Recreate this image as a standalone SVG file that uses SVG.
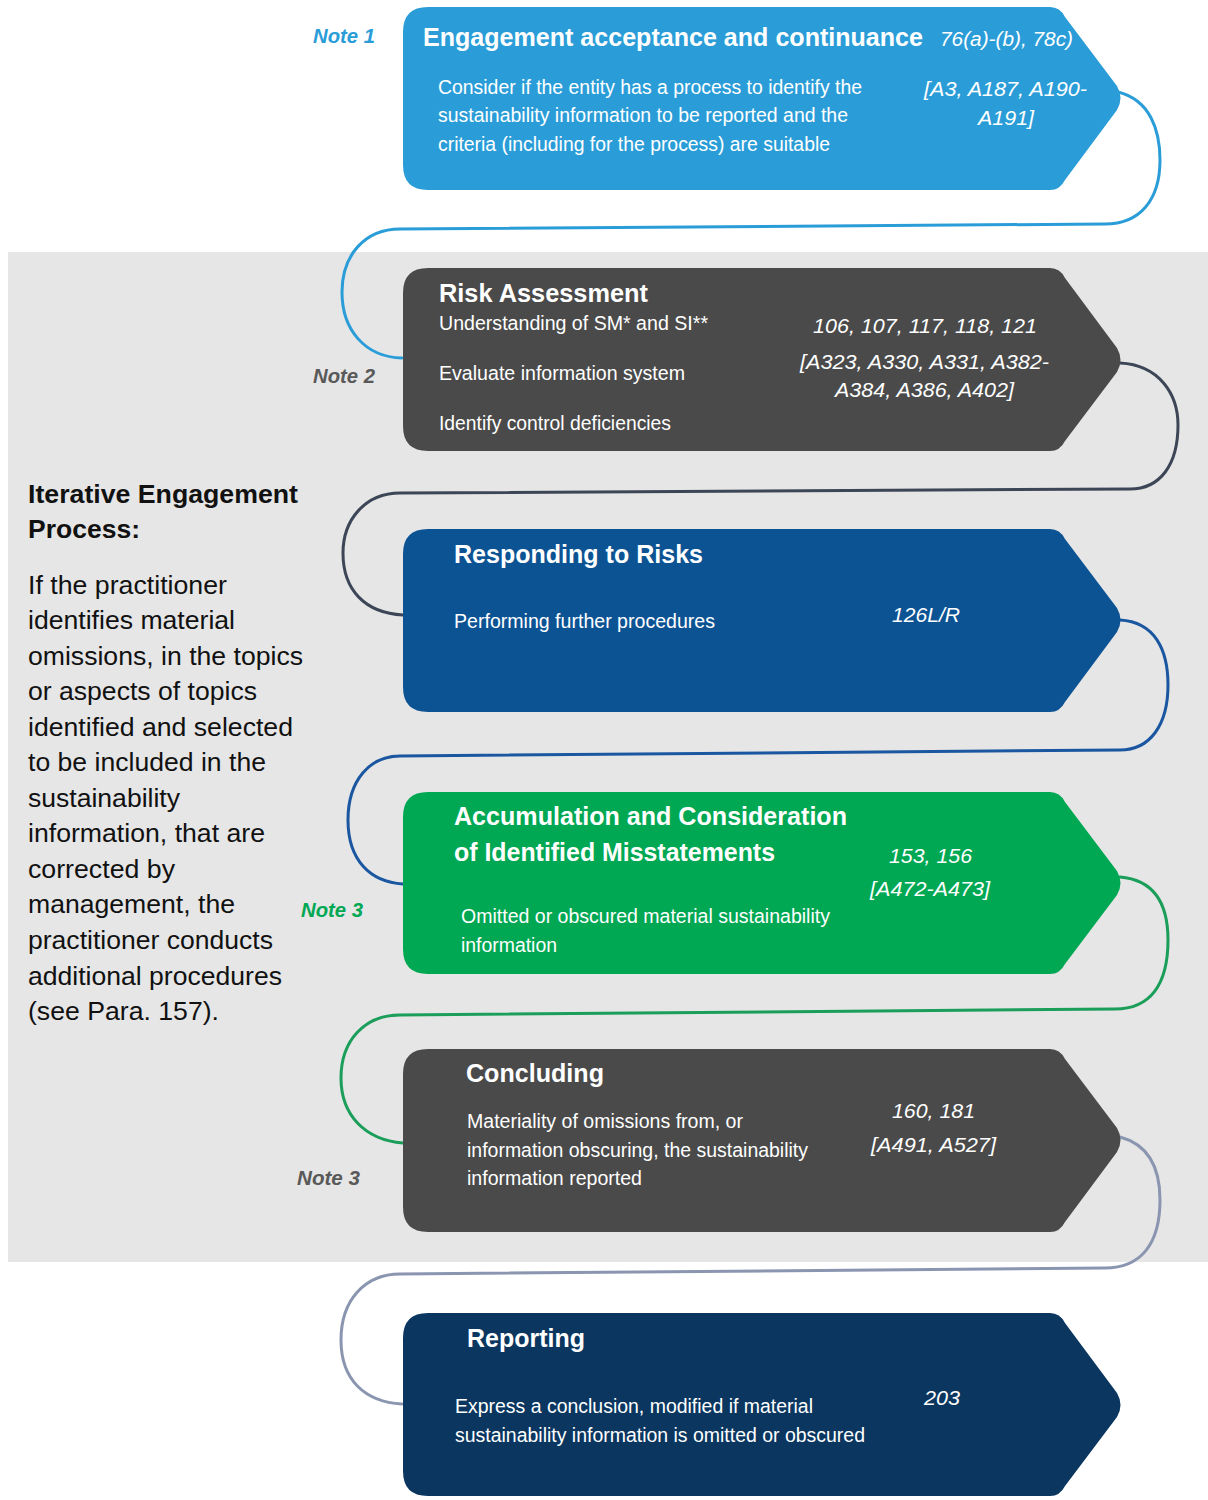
<svg xmlns="http://www.w3.org/2000/svg" width="1208" height="1500" viewBox="0 0 1208 1500">
<style>
.t{font-family:"Liberation Sans",Arial,sans-serif;fill:#fff;font-weight:bold;font-size:26px}
.b{font-family:"Liberation Sans",Arial,sans-serif;fill:#fff;font-size:20px}
.r{font-family:"Liberation Sans",Arial,sans-serif;fill:#fff;font-size:20px;font-style:italic}
.n{font-family:"Liberation Sans",Arial,sans-serif;font-size:19.5px;font-style:italic;font-weight:bold}
.l{font-family:"Liberation Sans",Arial,sans-serif;fill:#111;font-size:26.5px}
.lh{font-family:"Liberation Sans",Arial,sans-serif;fill:#111;font-size:26.5px;font-weight:bold}
.c{fill:none;stroke-width:3;stroke-linecap:round}
</style>
<rect x="8" y="252" width="1200" height="1010" fill="#e6e6e6"/>
<g id="connectors">
<path class="c" stroke="#2a9dd8" d="M1118 92 C1150 100,1160 130,1160 160 C1160 200,1140 224,1105 224 L400 229 C365 229,342 255,342 292 C342 330,365 357,402 358"/>
<path class="c" stroke="#3d4656" d="M1120 363 C1160 365,1178 395,1178 425 C1178 465,1160 489,1130 489 L400 493 C365 493,343 520,343 553 C343 590,365 613,403 615"/>
<path class="c" stroke="#1a57a0" d="M1120 620 C1155 622,1168 650,1168 685 C1168 725,1150 750,1120 750 L400 756 C370 756,348 780,348 820 C348 860,370 882,403 884"/>
<path class="c" stroke="#1a9e5a" d="M1120 877 C1155 880,1168 905,1168 940 C1168 985,1150 1009,1115 1009 L400 1015 C365 1015,341 1040,341 1078 C341 1115,365 1140,403 1143"/>
<path class="c" stroke="#8a95b0" d="M1120 1137 C1150 1145,1160 1170,1160 1200 C1160 1245,1140 1268,1105 1268 L400 1274 C365 1274,341 1300,341 1340 C341 1380,365 1402,402 1404"/>
</g>
<g id="node1">
<path fill="#2a9dd8" d="M428 7 H1050 Q1060 7 1065 17 L1117 86 Q1124 98 1117 110 L1065 180 Q1060 190 1050 190 H428 Q403 190 403 165 V32 Q403 7 428 7 Z"/>
<text class="t" x="423" y="46" textLength="500" lengthAdjust="spacingAndGlyphs">Engagement acceptance and continuance</text>
<text class="r" x="940" y="46" textLength="133" lengthAdjust="spacingAndGlyphs">76(a)-(b), 78c)</text>
<text class="b" x="438" y="94" textLength="424" lengthAdjust="spacingAndGlyphs">Consider if the entity has a process to identify the</text>
<text class="b" x="438" y="122" textLength="410" lengthAdjust="spacingAndGlyphs">sustainability information to be reported and the</text>
<text class="b" x="438" y="151" textLength="392" lengthAdjust="spacingAndGlyphs">criteria (including for the process) are suitable</text>
<text class="r" x="924" y="96" textLength="163" lengthAdjust="spacingAndGlyphs">[A3, A187, A190-</text>
<text class="r" x="978" y="125" textLength="56" lengthAdjust="spacingAndGlyphs">A191]</text>
</g>
<g id="node2">
<path fill="#4a4a4a" d="M428 268 H1050 Q1060 268 1065 278 L1117 348 Q1124 360 1117 372 L1065 441 Q1060 451 1050 451 H428 Q403 451 403 426 V293 Q403 268 428 268 Z"/>
<text class="t" x="439" y="302" textLength="209" lengthAdjust="spacingAndGlyphs">Risk Assessment</text>
<text class="b" x="439" y="330" textLength="269" lengthAdjust="spacingAndGlyphs">Understanding of SM* and SI**</text>
<text class="b" x="439" y="380" textLength="246" lengthAdjust="spacingAndGlyphs">Evaluate information system</text>
<text class="b" x="439" y="430" textLength="232" lengthAdjust="spacingAndGlyphs">Identify control deficiencies</text>
<text class="r" x="813" y="333" textLength="224" lengthAdjust="spacingAndGlyphs">106, 107, 117, 118, 121</text>
<text class="r" x="800" y="369" textLength="249" lengthAdjust="spacingAndGlyphs">[A323, A330, A331, A382-</text>
<text class="r" x="835" y="397" textLength="179" lengthAdjust="spacingAndGlyphs">A384, A386, A402]</text>
</g>
<g id="node3">
<path fill="#0c5394" d="M428 529 H1050 Q1060 529 1065 539 L1117 608 Q1124 620 1117 632 L1065 702 Q1060 712 1050 712 H428 Q403 712 403 687 V554 Q403 529 428 529 Z"/>
<text class="t" x="454" y="563" textLength="249" lengthAdjust="spacingAndGlyphs">Responding to Risks</text>
<text class="b" x="454" y="628" textLength="261" lengthAdjust="spacingAndGlyphs">Performing further procedures</text>
<text class="r" x="892" y="622" textLength="68" lengthAdjust="spacingAndGlyphs">126L/R</text>
</g>
<g id="node4">
<path fill="#00a853" d="M428 792 H1050 Q1060 792 1065 802 L1117 871 Q1124 883 1117 895 L1065 964 Q1060 974 1050 974 H428 Q403 974 403 949 V817 Q403 792 428 792 Z"/>
<text class="t" x="454" y="825" textLength="393" lengthAdjust="spacingAndGlyphs">Accumulation and Consideration</text>
<text class="t" x="454" y="861" textLength="321" lengthAdjust="spacingAndGlyphs">of Identified Misstatements</text>
<text class="r" x="889" y="863" textLength="83" lengthAdjust="spacingAndGlyphs">153, 156</text>
<text class="r" x="870" y="896" textLength="120" lengthAdjust="spacingAndGlyphs">[A472-A473]</text>
<text class="b" x="461" y="923" textLength="369" lengthAdjust="spacingAndGlyphs">Omitted or obscured material sustainability</text>
<text class="b" x="461" y="952" textLength="96" lengthAdjust="spacingAndGlyphs">information</text>
</g>
<g id="node5">
<path fill="#4a4a4a" d="M428 1049 H1050 Q1060 1049 1065 1059 L1117 1128 Q1124 1140 1117 1152 L1065 1222 Q1060 1232 1050 1232 H428 Q403 1232 403 1207 V1074 Q403 1049 428 1049 Z"/>
<text class="t" x="466" y="1082" textLength="138" lengthAdjust="spacingAndGlyphs">Concluding</text>
<text class="b" x="467" y="1128" textLength="276" lengthAdjust="spacingAndGlyphs">Materiality of omissions from, or</text>
<text class="b" x="467" y="1157" textLength="341" lengthAdjust="spacingAndGlyphs">information obscuring, the sustainability</text>
<text class="b" x="467" y="1185" textLength="175" lengthAdjust="spacingAndGlyphs">information reported</text>
<text class="r" x="892" y="1118" textLength="83" lengthAdjust="spacingAndGlyphs">160, 181</text>
<text class="r" x="871" y="1152" textLength="125" lengthAdjust="spacingAndGlyphs">[A491, A527]</text>
</g>
<g id="node6">
<path fill="#0a365f" d="M428 1313 H1050 Q1060 1313 1065 1323 L1117 1393 Q1124 1405 1117 1417 L1065 1486 Q1060 1496 1050 1496 H428 Q403 1496 403 1471 V1338 Q403 1313 428 1313 Z"/>
<text class="t" x="467" y="1347" textLength="118" lengthAdjust="spacingAndGlyphs">Reporting</text>
<text class="b" x="455" y="1413" textLength="358" lengthAdjust="spacingAndGlyphs">Express a conclusion, modified if material</text>
<text class="b" x="455" y="1442" textLength="410" lengthAdjust="spacingAndGlyphs">sustainability information is omitted or obscured</text>
<text class="r" x="924" y="1405" textLength="36" lengthAdjust="spacingAndGlyphs">203</text>
</g>
<g id="notes">
<text class="n" x="313" y="43" fill="#2a9dd8" textLength="62" lengthAdjust="spacingAndGlyphs">Note 1</text>
<text class="n" x="313" y="383" fill="#595959" textLength="62" lengthAdjust="spacingAndGlyphs">Note 2</text>
<text class="n" x="301" y="917" fill="#00a853" textLength="62" lengthAdjust="spacingAndGlyphs">Note 3</text>
<text class="n" x="297" y="1185" fill="#595959" textLength="63" lengthAdjust="spacingAndGlyphs">Note 3</text>
</g>
<g id="side-text">
<text class="lh" x="28" y="503" textLength="270" lengthAdjust="spacingAndGlyphs">Iterative Engagement</text>
<text class="lh" x="28" y="538" textLength="112" lengthAdjust="spacingAndGlyphs">Process:</text>
<text class="l" x="28" y="594" textLength="199" lengthAdjust="spacingAndGlyphs">If the practitioner</text>
<text class="l" x="28" y="629" textLength="207" lengthAdjust="spacingAndGlyphs">identifies material</text>
<text class="l" x="28" y="665" textLength="275" lengthAdjust="spacingAndGlyphs">omissions, in the topics</text>
<text class="l" x="28" y="700" textLength="229" lengthAdjust="spacingAndGlyphs">or aspects of topics</text>
<text class="l" x="28" y="736" textLength="265" lengthAdjust="spacingAndGlyphs">identified and selected</text>
<text class="l" x="28" y="771" textLength="238" lengthAdjust="spacingAndGlyphs">to be included in the</text>
<text class="l" x="28" y="807" textLength="152" lengthAdjust="spacingAndGlyphs">sustainability</text>
<text class="l" x="28" y="842" textLength="237" lengthAdjust="spacingAndGlyphs">information, that are</text>
<text class="l" x="28" y="878" textLength="147" lengthAdjust="spacingAndGlyphs">corrected by</text>
<text class="l" x="28" y="913" textLength="207" lengthAdjust="spacingAndGlyphs">management, the</text>
<text class="l" x="28" y="949" textLength="245" lengthAdjust="spacingAndGlyphs">practitioner conducts</text>
<text class="l" x="28" y="985" textLength="254" lengthAdjust="spacingAndGlyphs">additional procedures</text>
<text class="l" x="28" y="1020" textLength="191" lengthAdjust="spacingAndGlyphs">(see Para. 157).</text>
</g>
</svg>
